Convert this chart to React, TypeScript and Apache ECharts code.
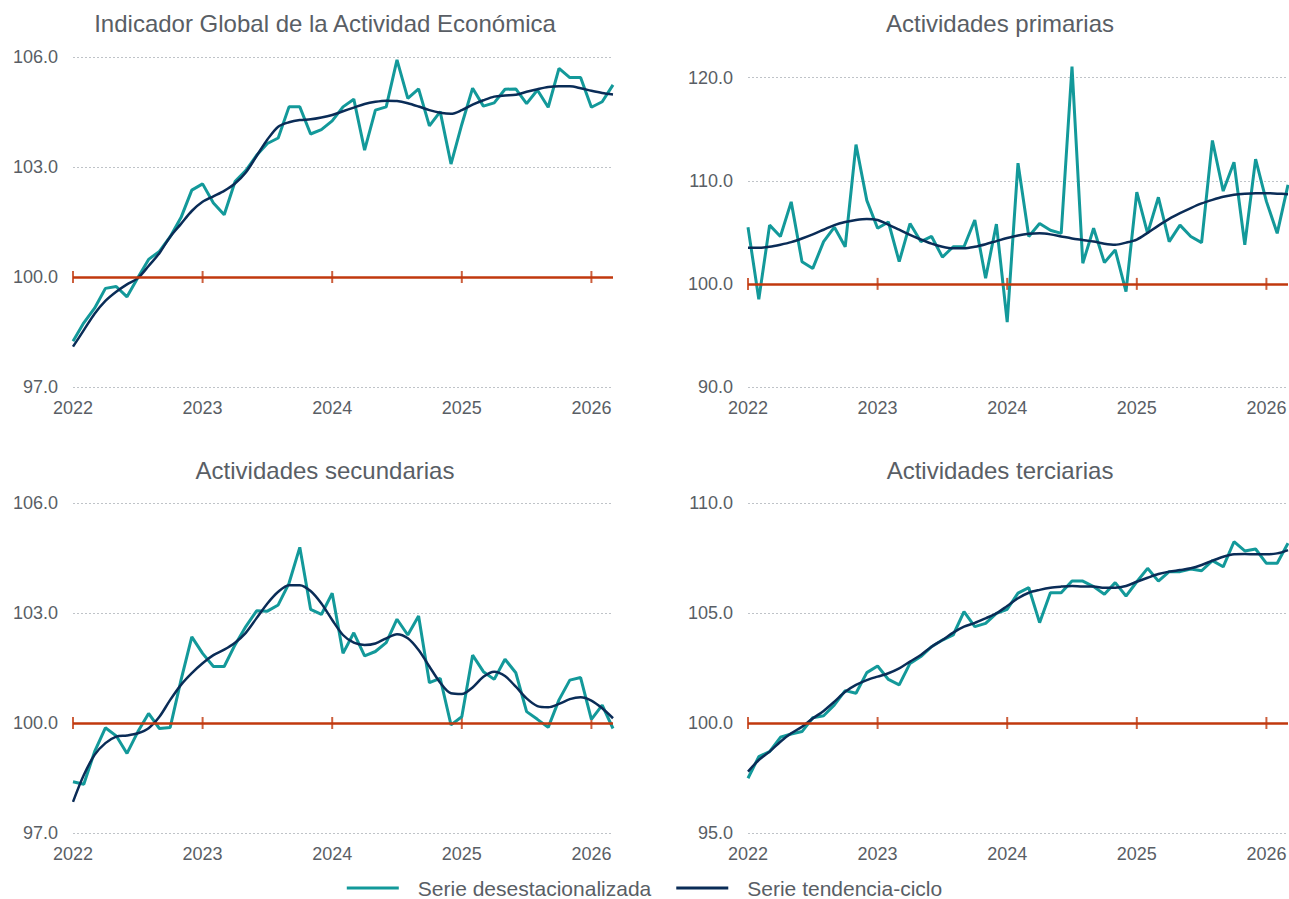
import React, { useEffect, useRef } from 'react';
import * as echarts from 'echarts';

const YEAR_LABELS = ['2022', '2023', '2024', '2025', '2026'];
const YEAR_TICKS = [0, 12, 24, 36, 48];
const LAST_MONTH = 50;

const IGAE_SA = [98.25, 98.75, 99.15, 99.69, 99.74, 99.46, 99.98, 100.48, 100.7, 101.1, 101.62, 102.37, 102.54, 102.02, 101.7, 102.6, 102.9, 103.32, 103.64, 103.79, 104.64, 104.64, 103.9, 104.02, 104.26, 104.64, 104.85, 103.46, 104.55, 104.64, 105.92, 104.87, 105.13, 104.12, 104.51, 103.08, 104.16, 105.15, 104.66, 104.75, 105.12, 105.13, 104.73, 105.1, 104.63, 105.69, 105.44, 105.44, 104.63, 104.78, 105.24];
const IGAE_TC = [98.1, 98.55, 99.0, 99.35, 99.6, 99.8, 99.97, 100.3, 100.65, 101.1, 101.45, 101.8, 102.05, 102.2, 102.35, 102.55, 102.85, 103.3, 103.75, 104.1, 104.22, 104.28, 104.3, 104.35, 104.42, 104.52, 104.62, 104.72, 104.78, 104.81, 104.8, 104.74, 104.65, 104.55, 104.48, 104.45, 104.55, 104.7, 104.82, 104.92, 104.95, 104.97, 105.05, 105.12, 105.18, 105.2, 105.2, 105.15, 105.08, 105.02, 104.98];

const PRIM_SA = [105.5, 98.5, 105.7, 104.6, 107.95, 102.15, 101.5, 104.1, 105.5, 103.6, 113.5, 108.1, 105.4, 106.0, 102.15, 105.85, 104.1, 104.6, 102.6, 103.6, 103.6, 106.2, 100.55, 105.8, 96.3, 111.7, 104.6, 105.85, 105.2, 104.9, 121.06, 102.0, 105.4, 102.06, 103.3, 99.26, 108.9, 104.9, 108.4, 104.1, 105.7, 104.6, 104.0, 113.9, 109.0, 111.8, 103.8, 112.1, 108.0, 104.9, 109.6];
const PRIM_TC = [103.5, 103.5, 103.6, 103.8, 104.05, 104.4, 104.8, 105.25, 105.7, 106.0, 106.2, 106.3, 106.2, 105.75, 105.25, 104.75, 104.3, 103.9, 103.6, 103.45, 103.45, 103.6, 103.85, 104.15, 104.45, 104.7, 104.85, 104.9, 104.8, 104.6, 104.4, 104.25, 104.1, 103.9, 103.8, 104.0, 104.3, 104.95, 105.65, 106.3, 106.85, 107.35, 107.8, 108.15, 108.45, 108.65, 108.75, 108.8, 108.8, 108.75, 108.7];

const SEC_SA = [98.4, 98.33, 99.22, 99.87, 99.65, 99.17, 99.76, 100.26, 99.85, 99.88, 101.17, 102.35, 101.9, 101.54, 101.54, 102.13, 102.63, 103.06, 103.05, 103.22, 103.81, 104.79, 103.1, 102.96, 103.54, 101.9, 102.46, 101.83, 101.95, 102.19, 102.83, 102.4, 102.92, 101.1, 101.22, 99.95, 100.17, 101.85, 101.4, 101.19, 101.74, 101.37, 100.31, 100.1, 99.88, 100.63, 101.17, 101.24, 100.1, 100.49, 99.85];
const SEC_TC = [97.85, 98.58, 99.13, 99.45, 99.63, 99.66, 99.72, 99.86, 100.17, 100.63, 101.04, 101.36, 101.63, 101.85, 102.0, 102.19, 102.46, 102.86, 103.26, 103.58, 103.76, 103.76, 103.6, 103.26, 102.81, 102.4, 102.19, 102.13, 102.17, 102.31, 102.42, 102.31, 101.99, 101.54, 101.1, 100.81, 100.79, 100.97, 101.26, 101.4, 101.28, 100.99, 100.67, 100.46, 100.43, 100.52, 100.65, 100.7, 100.61, 100.4, 100.13];

const TER_SA = [97.49, 98.47, 98.7, 99.35, 99.5, 99.61, 100.24, 100.33, 100.82, 101.47, 101.35, 102.29, 102.59, 101.98, 101.73, 102.71, 103.02, 103.47, 103.77, 104.0, 105.06, 104.38, 104.53, 104.98, 105.17, 105.9, 106.15, 104.56, 105.92, 105.92, 106.45, 106.45, 106.2, 105.85, 106.38, 105.77, 106.42, 107.03, 106.45, 106.88, 106.88, 107.0, 106.92, 107.38, 107.1, 108.24, 107.82, 107.91, 107.26, 107.26, 108.17];
const TER_TC = [97.79, 98.32, 98.7, 99.15, 99.53, 99.83, 100.21, 100.55, 100.97, 101.42, 101.73, 101.95, 102.11, 102.26, 102.48, 102.79, 103.09, 103.47, 103.77, 104.11, 104.38, 104.55, 104.76, 104.98, 105.32, 105.67, 105.92, 106.05, 106.15, 106.2, 106.23, 106.2, 106.2, 106.15, 106.15, 106.23, 106.42, 106.6, 106.77, 106.88, 106.95, 107.03, 107.18, 107.38, 107.56, 107.67, 107.68, 107.67, 107.67, 107.71, 107.86];

const TITLES = ['Indicador Global de la Actividad Económica', 'Actividades primarias', 'Actividades secundarias', 'Actividades terciarias'];
const SA_NAME = 'Serie desestacionalizada';
const TC_NAME = 'Serie tendencia-ciclo';
const BASE = 100;

const TEAL = '#13999A';
const NAVY = '#0A2C57';
const RED = '#C1380E';
const TEXT = '#595E65';
const FONT = '"Liberation Sans", Arial, sans-serif';
const LEGEND_ICON = 'path://M0,0H52V3H0Z M66,0';

const PANELS = [
  { title: TITLES[0], sa: IGAE_SA, tc: IGAE_TC, min: 97, max: 106, interval: 3, left: 73, top: 57, cx: 325, ty: 23 },
  { title: TITLES[1], sa: PRIM_SA, tc: PRIM_TC, min: 90, max: 122, interval: 10, left: 748, top: 57, cx: 1000, ty: 23 },
  { title: TITLES[2], sa: SEC_SA, tc: SEC_TC, min: 97, max: 106, interval: 3, left: 73, top: 503, cx: 325, ty: 470 },
  { title: TITLES[3], sa: TER_SA, tc: TER_TC, min: 95, max: 110, interval: 5, left: 748, top: 503, cx: 1000, ty: 470 },
];

export default function App() {
  const ref = useRef<HTMLDivElement>(null);
  useEffect(() => {
    if (!ref.current) return;
    const chart = echarts.init(ref.current, null, { renderer: 'svg' });
    const grid: any[] = [];
    const xAxis: any[] = [];
    const yAxis: any[] = [];
    const series: any[] = [];
    const graphic: any[] = [];
    PANELS.forEach((p, k) => {
      grid.push({ left: p.left, top: p.top, width: 540, height: 330, containLabel: false, outerBoundsMode: 'none' });
      xAxis.push({
        type: 'value', gridIndex: k, min: 0, max: LAST_MONTH, interval: 12,
        axisLine: { show: false }, axisTick: { show: false }, splitLine: { show: false },
        axisLabel: {
          color: TEXT, fontSize: 18, fontFamily: FONT, margin: 12, showMaxLabel: true,
          formatter: (v: number) => (v % 12 === 0 ? YEAR_LABELS[v / 12] || '' : ''),
        },
      });
      yAxis.push({
        type: 'value', gridIndex: k, min: p.min, max: p.max, interval: p.interval,
        axisLine: { show: false }, axisTick: { show: false },
        splitLine: { show: true, showMaxLine: (p.max - p.min) % p.interval === 0, lineStyle: { color: '#BFC3C8', width: 1, type: [2, 2] } },
        axisLabel: {
          color: TEXT, fontSize: 18, fontFamily: FONT, margin: 15,
          formatter: (v: number) => (Math.abs((v - p.min) % p.interval) < 1e-6 ? v.toFixed(1) : ''),
        },
      });
      series.push({
        type: 'scatter', xAxisIndex: k, yAxisIndex: k, silent: true, z: 2,
        data: YEAR_TICKS.map((m) => [m, BASE]),
        symbol: 'rect', symbolSize: [2, 12], itemStyle: { color: RED },
        markLine: {
          silent: true, symbol: ['none', 'none'], label: { show: false },
          lineStyle: { color: RED, width: 2.5, type: 'solid' },
          data: [{ yAxis: BASE }],
        },
      });
      series.push({
        type: 'line', name: SA_NAME, xAxisIndex: k, yAxisIndex: k, z: 3,
        data: p.sa.map((v, i) => [i, v]), symbol: 'none', showSymbol: false,
        lineStyle: { color: TEAL, width: 3 }, itemStyle: { color: TEAL },
      });
      series.push({
        type: 'line', name: TC_NAME, xAxisIndex: k, yAxisIndex: k, z: 4,
        data: p.tc.map((v, i) => [i, v]), symbol: 'none', showSymbol: false, smooth: 0.3,
        lineStyle: { color: NAVY, width: 2.5 }, itemStyle: { color: NAVY },
      });
      graphic.push({
        type: 'text', x: p.cx, y: p.ty,
        style: { text: p.title, fill: TEXT, font: `24px ${FONT}`, align: 'center', verticalAlign: 'middle' },
      });
    });
    chart.setOption({
      animation: false,
      backgroundColor: '#ffffff',
      grid, xAxis, yAxis, series, graphic,
      legend: {
        data: [
          { name: SA_NAME, icon: LEGEND_ICON, itemStyle: { color: TEAL } },
          { name: TC_NAME, icon: LEGEND_ICON, itemStyle: { color: NAVY } },
        ],
        left: 'center', top: 872, padding: 5, itemWidth: 66, itemHeight: 3, itemGap: 25,
        textStyle: { color: TEXT, fontSize: 21, fontFamily: FONT, lineHeight: 22 },
      },
    });
    return () => chart.dispose();
  }, []);
  return <div ref={ref} style={{ position: 'fixed', left: 0, top: 0, width: 1289, height: 899 }} />;
}
